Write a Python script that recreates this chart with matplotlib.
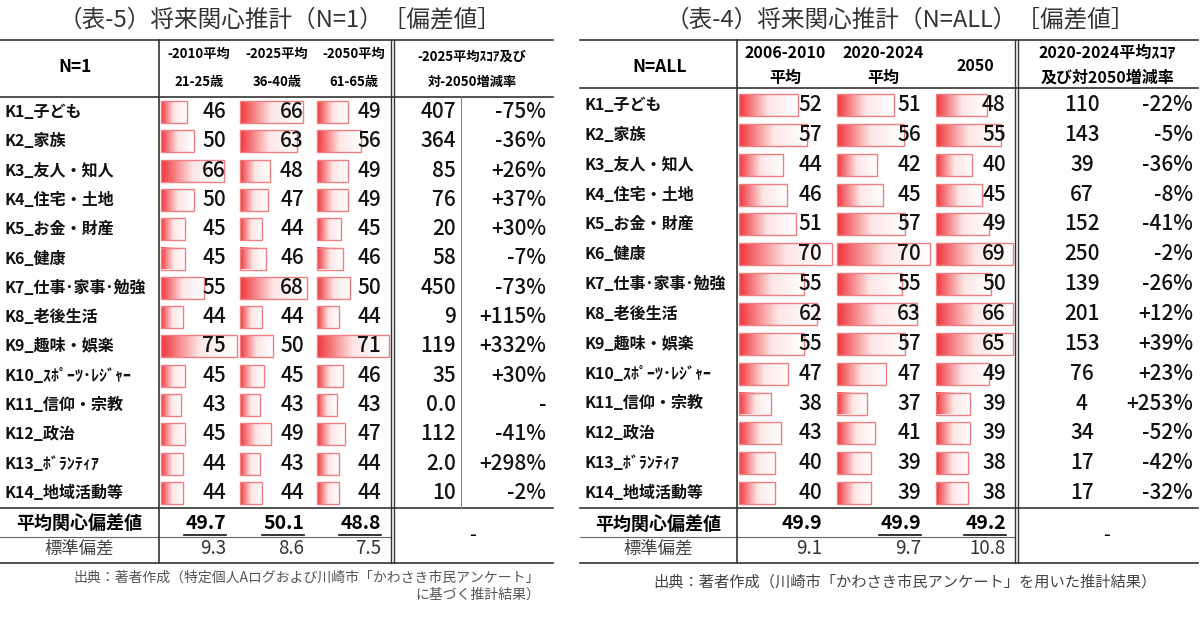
import matplotlib.pyplot as plt
import numpy as np

plt.rcParams['font.family'] = ['Noto Sans CJK JP', 'DejaVu Sans']

labels = ["K1_子ども", "K2_家族", "K3_友人・知人", "K4_住宅・土地", "K5_お金・財産", "K6_健康",
          "K7_仕事･家事･勉強", "K8_老後生活", "K9_趣味・娯楽", "K10_ｽﾎﾟｰﾂ･ﾚｼﾞｬｰ", "K11_信仰・宗教",
          "K12_政治", "K13_ﾎﾞﾗﾝﾃｨｱ", "K14_地域活動等"]
labels_all = list(labels)

n1_2010 = [46, 50, 66, 50, 45, 45, 55, 44, 75, 45, 43, 45, 44, 44]
n1_2025 = [66, 63, 48, 47, 44, 46, 68, 44, 50, 45, 43, 49, 43, 44]
n1_2050 = [49, 56, 49, 49, 45, 46, 50, 44, 71, 46, 43, 47, 44, 44]
n1_score = ["407", "364", "85", "76", "20", "58", "450", "9", "119", "35", "0.0", "112", "2.0", "10"]
n1_pct = ["-75%", "-36%", "+26%", "+37%", "+30%", "-7%", "-73%", "+115%", "+332%", "+30%", "-",
          "-41%", "+298%", "-2%"]
n1_mean = ["49.7", "50.1", "48.8"]
n1_sd = ["9.3", "8.6", "7.5"]

all_2010 = [52, 57, 44, 46, 51, 70, 55, 62, 55, 47, 38, 43, 40, 40]
all_2024 = [51, 56, 42, 45, 57, 70, 55, 63, 57, 47, 37, 41, 39, 39]
all_2050 = [48, 55, 40, 45, 49, 69, 50, 66, 65, 49, 39, 39, 38, 38]
all_score = ["110", "143", "39", "67", "152", "250", "139", "201", "153", "76", "4", "34", "17", "17"]
all_pct = ["-22%", "-5%", "-36%", "-8%", "-41%", "-2%", "-26%", "+12%", "+39%", "+23%", "+253%",
           "-52%", "-42%", "-32%"]
all_mean = ["49.9", "49.9", "49.2"]
all_sd = ["9.1", "9.7", "10.8"]

fig = plt.figure(figsize=(12, 6.19), dpi=100)
ax = fig.add_axes([0, 0, 1, 1])
ax.set_xlim(0, 1200)
ax.set_ylim(619, 0)
ax.axis("off")

grad = np.linspace(0, 1, 64).reshape(1, -1)
cmap = plt.matplotlib.colors.LinearSegmentedColormap.from_list("rw", ["#f0363c", "#fde6e6", "#ffffff"])


def bar(x0, yc, length, h=22):
    ax.imshow(grad, cmap=cmap, aspect="auto", extent=(x0, x0 + length, yc + h / 2, yc - h / 2),
              interpolation="bilinear", zorder=1)
    ax.add_patch(plt.Rectangle((x0, yc - h / 2), length, h, fill=False, ec="#f07f82", lw=1, zorder=2))


def hline(x0, x1, y, lw=1.0, c="#333333"):
    ax.plot([x0, x1], [y, y], color=c, lw=lw, zorder=3)


def vline(x, y0, y1, lw=1.0, c="#333333"):
    ax.plot([x, x], [y0, y1], color=c, lw=lw, zorder=3)


def table(L, R, vx, cols, vals_x, base, slope, dbl, score_x, score_ha, pct_x, thin_x,
          hdr_bottom, row0, step, labels, series, scores, pcts, means, sds, underline):
    top = 40
    hline(L, R, top, 1.2)
    hline(L, R, hdr_bottom, 1.2)
    rows_end = row0 + step * 13.5
    for i, lab in enumerate(labels):
        y = row0 + step * i
        ax.text(L + 4, y, lab, fontsize=11.5, weight="bold", va="center", ha="left", color="#111")
        for (cx0, cx1), vx_, s in zip(cols, vals_x, series):
            v = s[i]
            length = min((v - base) * slope, cx1 - cx0 - 3)
            bar(cx0 + 2, y, length)
            ax.text(vx_, y, str(v), fontsize=15, weight="medium", ha="right", va="center",
                    color="#111", zorder=4)
        ax.text(score_x, y, scores[i], fontsize=15, weight="medium", ha=score_ha, va="center", color="#111")
        ax.text(pct_x, y, pcts[i], fontsize=15, weight="medium", ha="right", va="center", color="#111")
    mean_y = rows_end + 16
    sd_y = mean_y + 25
    bottom = sd_y + 14
    hline(L, R, rows_end, 1.2)
    hline(L, dbl, mean_y + 13, 0.8, "#666")
    hline(L, R, bottom, 1.2)
    ax.text((L + vx) / 2, mean_y, "平均関心偏差値", fontsize=13, weight="bold", ha="center", va="center")
    ax.text((L + vx) / 2, sd_y, "標準偏差", fontsize=12.5, ha="center", va="center", color="#444")
    for j, vx_ in enumerate(vals_x):
        ax.text(vx_, mean_y, means[j], fontsize=14, weight="bold", ha="right", va="center")
        if underline[j]:
            hline(vx_ - 42, vx_, mean_y + 11, 1.2, "#111")
        ax.text(vx_, sd_y, sds[j], fontsize=13.5, ha="right", va="center", color="#333")
    ax.text((dbl + R) / 2, (rows_end + bottom) / 2, "-", fontsize=14, ha="center", va="center")
    vline(vx, top, bottom, 1.2)
    vline(dbl, top, bottom, 1.0)
    vline(dbl + 3, top, bottom, 1.0)
    if thin_x:
        vline(thin_x, hdr_bottom, rows_end, 0.8, "#888")


# left table (N=1)
ax.text(280, 20, "（表-5）将来関心推計（N=1）［偏差値］", fontsize=17, ha="center", va="center", color="#333")
table(0, 553, 159, [(159, 238), (238, 315), (315, 390)], [226, 304, 381], 32, 1.85, 391, 456, "right",
      546, 461, 97, 112, 29.3, labels, [n1_2010, n1_2025, n1_2050], n1_score, n1_pct, n1_mean, n1_sd,
      [True, True, True])
ax.text(75, 67, "N=1", fontsize=12.5, weight="bold", ha="center", va="center")
for x, a, b in [(199, "-2010平均", "21-25歳"), (277, "-2025平均", "36-40歳"), (354, "-2050平均", "61-65歳")]:
    ax.text(x, 54, a, fontsize=9.5, weight="bold", ha="center", va="center")
    ax.text(x, 82, b, fontsize=9.5, weight="bold", ha="center", va="center")
ax.text(472, 57, "-2025平均ｽｺｱ及び", fontsize=9.5, weight="bold", ha="center", va="center")
ax.text(472, 82, "対-2050増減率", fontsize=9.5, weight="bold", ha="center", va="center")
ax.text(540, 578, "出典：著者作成（特定個人Aログおよび川崎市「かわさき市民アンケート」", fontsize=10,
        ha="right", va="center", color="#555")
ax.text(540, 595, "に基づく推計結果）", fontsize=10, ha="right", va="center", color="#555")

# right table (N=ALL)
ax.text(900, 20, "（表-4）将来関心推計（N=ALL）［偏差値］", fontsize=17, ha="center", va="center", color="#333")
table(580, 1198, 737, [(737, 835), (835, 934), (934, 1014)], [822, 921, 1006], 21, 1.9, 1015, 1082,
      "center", 1193, None, 88, 105, 29.85, labels_all, [all_2010, all_2024, all_2050], all_score, all_pct,
      all_mean, all_sd, [False, True, True])
ax.text(660, 67, "N=ALL", fontsize=12.5, weight="bold", ha="center", va="center")
ax.text(785, 53, "2006-2010", fontsize=11.5, weight="bold", ha="center", va="center")
ax.text(785, 78, "平均", fontsize=11.5, weight="bold", ha="center", va="center")
ax.text(883, 53, "2020-2024", fontsize=11.5, weight="bold", ha="center", va="center")
ax.text(883, 78, "平均", fontsize=11.5, weight="bold", ha="center", va="center")
ax.text(975, 66, "2050", fontsize=11.5, weight="bold", ha="center", va="center")
ax.text(1107, 53, "2020-2024平均ｽｺｱ", fontsize=11.5, weight="bold", ha="center", va="center")
ax.text(1107, 78, "及び対2050増減率", fontsize=11.5, weight="bold", ha="center", va="center")
ax.text(905, 582, "出典：著者作成（川崎市「かわさき市民アンケート」を用いた推計結果）", fontsize=11,
        ha="center", va="center", color="#444")

fig.savefig("out.png", dpi=100)
